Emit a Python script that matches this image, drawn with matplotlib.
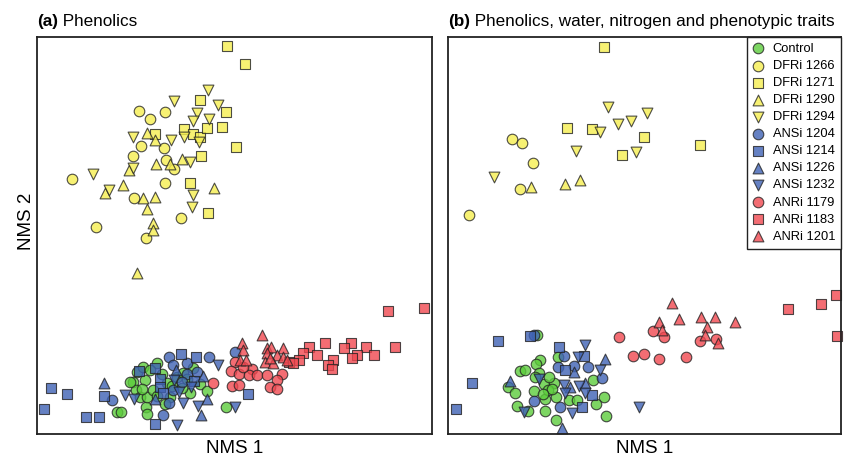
import matplotlib
matplotlib.use('Agg')
import matplotlib.pyplot as plt
import numpy as np

plt.rcParams['font.family'] = ['Liberation Sans', 'DejaVu Sans']

# Puntuaciones NMS (unidades arbitrarias)
# ---- Panel (a): Fenoles ----
a_control = [(80, 22), (84, 22), (100, 62), (96, 52), (99, 44), (103, 37), (109, 27), (110, 20),
             (110, 37), (108, 54), (116, 44), (120, 71), (130, 51), (140, 57), (146, 61), (156, 66),
             (163, 50), (153, 41), (170, 43), (189, 27), (93, 52), (106, 67), (113, 64), (133, 37),
             (125, 60), (135, 48), (120, 38), (145, 46), (105, 45), (128, 30), (150, 55)]
a_dfri1266 = [(102, 323), (113, 315), (128, 322), (104, 288), (127, 286), (96, 278), (129, 274),
              (137, 265), (35, 255), (128, 251), (97, 236), (144, 216), (59, 207), (109, 196)]
a_dfri1271 = [(190, 388), (208, 370), (163, 334), (189, 322), (147, 305), (156, 300), (163, 297),
              (170, 306), (185, 307), (118, 300), (199, 287), (164, 278), (153, 251), (171, 221)]
a_dfri1290 = [(110, 301), (118, 294), (119, 270), (133, 270), (145, 275), (92, 264), (86, 249),
              (68, 241), (106, 236), (118, 237), (110, 225), (177, 246), (116, 211), (116, 204),
              (100, 161)]
a_dfri1294 = [(171, 344), (137, 333), (181, 329), (160, 321), (156, 313), (172, 315), (96, 297),
              (134, 294), (147, 297), (162, 292), (96, 266), (153, 272), (56, 260), (72, 244),
              (156, 239), (155, 227)]
a_ansi1204 = [(75, 34), (132, 77), (136, 69), (150, 71), (172, 77), (132, 31), (126, 19), (136, 44),
              (198, 82), (150, 60), (160, 62), (145, 52)]
a_ansi1214 = [(14, 46), (30, 40), (7, 25), (49, 17), (62, 17), (67, 38), (102, 63), (118, 66),
              (123, 55), (123, 47), (126, 41), (144, 80), (159, 77), (157, 53), (118, 10), (211, 40)]
a_ansi1226 = [(67, 51), (139, 64), (118, 35), (170, 35), (164, 19), (166, 58)]
a_ansi1232 = [(181, 69), (88, 39), (97, 35), (146, 31), (142, 42), (161, 28), (140, 9), (137, 54),
              (154, 47), (198, 27)]
a_anri1179 = [(198, 72), (194, 63), (202, 60), (215, 65), (212, 59), (220, 59), (230, 59), (245, 60),
              (240, 54), (195, 48), (202, 49), (233, 47), (240, 45), (176, 51), (206, 67)]
a_anri1183 = [(351, 123), (387, 126), (272, 87), (288, 91), (314, 91), (307, 86), (329, 87), (358, 87),
              (266, 81), (280, 79), (320, 79), (337, 79), (315, 76), (296, 74), (291, 69), (295, 65),
              (262, 74), (252, 72), (256, 71)]
a_anri1201 = [(225, 99), (205, 91), (206, 84), (230, 86), (234, 87), (246, 86), (240, 79), (230, 81),
              (203, 74), (209, 74), (228, 72), (236, 71), (246, 77), (250, 74), (233, 76)]

# ---- Panel (b): Fenoles, agua, nitrogeno y rasgos fenotipicos ----
b_control = [(89, 99), (92, 74), (88, 70), (72, 63), (77, 64), (91, 61), (87, 57), (60, 47), (67, 41),
             (86, 43), (96, 50), (106, 51), (97, 35), (108, 37), (69, 28), (80, 23), (97, 23), (108, 14),
             (145, 54), (156, 37), (148, 30), (158, 18), (110, 77), (121, 34), (129, 34), (100, 44),
             (101, 57), (104, 45), (95, 40)]
b_dfri1266 = [(64, 295), (74, 291), (85, 271), (72, 245), (21, 219)]
b_dfri1271 = [(156, 387), (119, 306), (144, 305), (196, 297), (174, 279), (252, 289)]
b_dfri1290 = [(83, 247), (117, 250), (132, 254)]
b_dfri1294 = [(160, 327), (199, 321), (170, 310), (183, 313), (152, 302), (128, 283), (188, 282),
              (46, 257)]
b_ansi1204 = [(86, 99), (116, 78), (110, 67), (126, 68), (140, 67), (154, 56), (86, 33), (112, 27)]
b_ansi1214 = [(50, 93), (82, 98), (24, 51), (8, 25), (111, 87), (136, 78), (117, 64), (144, 39),
              (134, 27)]
b_ansi1226 = [(157, 75), (114, 6), (62, 53), (126, 62), (122, 47), (137, 51)]
b_ansi1232 = [(137, 89), (130, 77), (152, 64), (131, 48), (116, 49), (137, 41), (124, 21), (76, 22),
              (91, 55), (191, 27), (117, 41)]
b_anri1179 = [(171, 97), (205, 103), (216, 97), (252, 93), (268, 95), (185, 78), (196, 80), (211, 75),
              (238, 77)]
b_anri1183 = [(340, 125), (373, 130), (388, 139), (389, 98)]
b_anri1201 = [(224, 131), (211, 112), (231, 115), (253, 117), (267, 117), (287, 112), (259, 107),
              (214, 104), (257, 99), (270, 91)]

labels = ['Control', 'DFRi 1266', 'DFRi 1271', 'DFRi 1290', 'DFRi 1294', 'ANSi 1204', 'ANSi 1214',
          'ANSi 1226', 'ANSi 1232', 'ANRi 1179', 'ANRi 1183', 'ANRi 1201']
panel_a = [a_control, a_dfri1266, a_dfri1271, a_dfri1290, a_dfri1294, a_ansi1204, a_ansi1214,
           a_ansi1226, a_ansi1232, a_anri1179, a_anri1183, a_anri1201]
panel_b = [b_control, b_dfri1266, b_dfri1271, b_dfri1290, b_dfri1294, b_ansi1204, b_ansi1214,
           b_ansi1226, b_ansi1232, b_anri1179, b_anri1183, b_anri1201]

# Estilos
verde, amarillo, azul, rojo = '#5ccc3c', '#f5ee50', '#3f62b4', '#f04850'
colores = [verde, amarillo, amarillo, amarillo, amarillo, azul, azul, azul, azul, rojo, rojo, rojo]
marcadores = ['o', 'o', 's', '^', 'v', 'o', 's', '^', 'v', 'o', 's', '^']
tamanos = {'o': 58, 's': 48, '^': 60, 'v': 60}

fig = plt.figure(figsize=(8.47, 4.61), dpi=100)
ax1 = fig.add_axes([37 / 847, 27 / 461, 395 / 847, 397 / 461])
ax2 = fig.add_axes([448 / 847, 27 / 461, 393 / 847, 397 / 461])


def dibujar(ax, grupos):
    for pts, c, m, lab in zip(grupos, colores, marcadores, labels):
        pts = np.array(pts, dtype=float)
        ax.scatter(pts[:, 0], pts[:, 1], s=tamanos[m], marker=m, c=c, alpha=0.8,
                   edgecolors='#222222', linewidths=0.8, label=lab, clip_on=False)
    ax.set_xticks([])
    ax.set_yticks([])
    for sp in ax.spines.values():
        sp.set_linewidth(1.3)
        sp.set_color('#222222')


dibujar(ax1, panel_a)
dibujar(ax2, panel_b)
ax1.set_xlim(0, 395)
ax1.set_ylim(0, 397)
ax2.set_xlim(0, 393)
ax2.set_ylim(0, 397)

ax1.set_xlabel('NMS 1', fontsize=13.5, labelpad=4)
ax2.set_xlabel('NMS 1', fontsize=13.5, labelpad=4)
ax1.set_ylabel('NMS 2', fontsize=13.5)
ax1.yaxis.set_label_coords(-0.006, 0.535)

# Titulos con la letra en negrita
for ax, txt in [(ax1, ' Phenolics'), (ax2, ' Phenolics, water, nitrogen and phenotypic traits')]:
    letra = '(a)' if ax is ax1 else '(b)'
    t = ax.text(0.0, 1.02, letra, transform=ax.transAxes, fontsize=12.3, weight='bold',
                va='bottom', ha='left')
    ax.annotate(txt, xy=(1, 0), xycoords=t, fontsize=12.3, va='bottom', ha='left')

leg = ax2.legend(loc='upper right', borderaxespad=0, fontsize=9.3, labelspacing=0.39,
                 handlelength=0.8, handletextpad=0.75, borderpad=0.45, fancybox=False,
                 edgecolor='#222222', framealpha=1, scatterpoints=1)
leg.get_frame().set_linewidth(1.0)

plt.savefig('out.png', dpi=100)
